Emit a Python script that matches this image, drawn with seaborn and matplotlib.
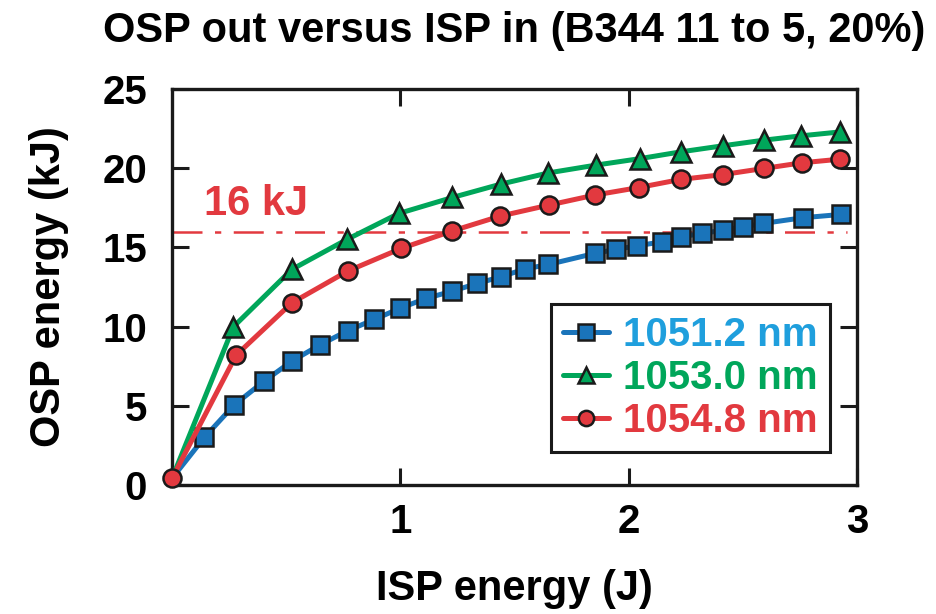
import matplotlib
matplotlib.use("Agg")
import matplotlib.pyplot as plt
import seaborn as sns
import pandas as pd
from matplotlib.ticker import FixedLocator

sns.set_theme(style="white")
plt.rcParams["font.family"] = ["Liberation Sans", "DejaVu Sans"]
plt.rcParams["font.weight"] = "bold"
plt.rcParams["text.color"] = "black"
plt.rcParams["axes.labelcolor"] = "black"
plt.rcParams["xtick.color"] = "black"
plt.rcParams["ytick.color"] = "black"

# ISP input energy (J) and OSP output energy (kJ) for each wavelength
x_1051 = [0.0, 0.142, 0.272, 0.404, 0.525, 0.646, 0.769, 0.886, 0.997, 1.113,
          1.228, 1.336, 1.439, 1.544, 1.648, 1.852, 1.943, 2.038, 2.145, 2.229,
          2.323, 2.414, 2.501, 2.589, 2.762, 2.930]
y_1051 = [0.42, 3.01, 5.05, 6.56, 7.82, 8.83, 9.74, 10.45, 11.15, 11.78,
          12.24, 12.72, 13.14, 13.63, 13.92, 14.62, 14.87, 15.10, 15.35, 15.67,
          15.88, 16.09, 16.30, 16.51, 16.87, 17.08]

x_1053 = [0.0, 0.269, 0.525, 0.766, 0.993, 1.228, 1.439, 1.648, 1.855, 2.048,
          2.228, 2.411, 2.593, 2.754, 2.927]
y_1053 = [0.42, 9.99, 13.61, 15.50, 17.14, 18.15, 18.99, 19.70, 20.19, 20.60,
          21.03, 21.41, 21.77, 22.04, 22.29]

x_1054 = [0.0, 0.281, 0.525, 0.769, 1.003, 1.228, 1.436, 1.651, 1.851, 2.045,
          2.228, 2.415, 2.591, 2.759, 2.927]
y_1054 = [0.42, 8.20, 11.50, 13.50, 14.93, 16.04, 16.97, 17.67, 18.30, 18.78,
          19.29, 19.60, 19.98, 20.34, 20.57]

labels = ["1051.2 nm", "1053.0 nm", "1054.8 nm"]
threshold_kj = 16
threshold_label = "16 kJ"

x_ticks = [1, 2, 3]
y_ticks = [0, 5, 10, 15, 20, 25]

line_colors = ["#1a74ba", "#00a65a", "#e2393f"]
text_colors = ["#1f9fdd", "#00a65a", "#e2393f"]
markers = ["s", "^", "o"]
msizes = [12.5, 14, 13]

fig = plt.figure(figsize=(9.37, 6.14), dpi=100)
ax = fig.add_axes([0.1836, 0.2101, 0.7310, 0.6450])

series = [(x_1051, y_1051), (x_1053, y_1053), (x_1054, y_1054)]
for i, ((xs, ys), lab) in enumerate(zip(series, labels)):
    df = pd.DataFrame({"isp": xs, "osp": ys})
    # the shared origin point carries only the circle marker
    mk_every = slice(0, None) if i == 2 else slice(1, None)
    sns.lineplot(data=df, x="isp", y="osp", ax=ax, color=line_colors[i],
                 marker=markers[i], markersize=msizes[i], markeredgecolor="#1a1a1a",
                 markeredgewidth=1.8, markerfacecolor=line_colors[i],
                 linewidth=3.6, label=lab, sort=False, estimator=None,
                 markevery=mk_every, clip_on=False, zorder=3 + i)

ax.axhline(threshold_kj, color="#e2393f", linewidth=1.8,
           dashes=(12, 5, 2.5, 5), zorder=2, xmax=0.985)
ax.text(0.142, threshold_kj + 0.5, threshold_label, color="#e2393f",
        fontsize=30, fontweight="bold", ha="left", va="bottom")

ax.set_xlim(0, 3)
ax.set_ylim(0, 25)
ax.xaxis.set_major_locator(FixedLocator(x_ticks))
ax.yaxis.set_major_locator(FixedLocator(y_ticks))
ax.tick_params(axis="both", which="major", direction="in", length=12, width=2.2,
               color="#1a1a1a", labelsize=29, top=True, right=True,
               bottom=True, left=True)
ax.tick_params(axis="x", pad=13)
ax.tick_params(axis="y", pad=18)
for lbl in ax.get_xticklabels() + ax.get_yticklabels():
    lbl.set_fontweight("bold")

for sp in ax.spines.values():
    sp.set_visible(True)
    sp.set_color("#1a1a1a")
    sp.set_linewidth(2.4)

ax.set_xlabel("ISP energy (J)", fontsize=30, fontweight="bold", labelpad=20)
ax.set_ylabel("OSP energy (kJ)", fontsize=30, fontweight="bold", labelpad=24)
ax.set_title("OSP out versus ISP in (B344 11 to 5, 20%)", fontsize=30,
             fontweight="bold", pad=34)

leg = ax.legend(loc="upper left", bbox_to_anchor=(0.553, 0.457),
                borderaxespad=0, frameon=True, fancybox=False,
                handlelength=1.15, handletextpad=0.35, labelspacing=0.12,
                borderpad=0.3, prop={"weight": "bold", "size": 29})
leg.get_frame().set_edgecolor("#1a1a1a")
leg.get_frame().set_linewidth(2.2)
leg.get_frame().set_alpha(1)
for txt, c in zip(leg.get_texts(), text_colors):
    txt.set_color(c)
for h in leg.legend_handles:
    h.set_markersize(11)
    h.set_markevery([1])

fig.savefig("out.png", dpi=100)
